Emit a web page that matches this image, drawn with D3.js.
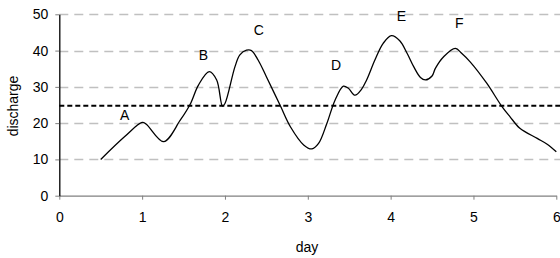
<!DOCTYPE html>
<html>
<head>
<meta charset="utf-8">
<script src="https://cdn.jsdelivr.net/npm/d3@7"></script>
<style>
  body { margin: 0; background: #fff; }
  svg { display: block; font-family: Arial, "Liberation Sans", sans-serif; }
</style>
</head>
<body>
<svg id="chart" width="560" height="258"></svg>
<script>
// hydrograph readings (day, discharge)
const days = [0.5, 0.79, 1.0, 1.05, 1.26, 1.46, 1.58, 1.68, 1.81, 1.9, 1.97, 2.0, 2.12, 2.18, 2.26, 2.32, 2.4, 2.5, 2.67, 2.79, 2.95, 3.05, 3.13, 3.23, 3.33, 3.43, 3.49, 3.57, 3.65, 3.71, 3.81, 3.91, 4.01, 4.11, 4.2, 4.28, 4.36, 4.42, 4.5, 4.54, 4.64, 4.78, 4.86, 4.96, 5.16, 5.34, 5.44, 5.56, 5.77, 5.89, 6.0];
const discharge = [10, 16.3, 20.2, 19.7, 14.9, 20.8, 25.2, 30.5, 34.2, 31.9, 24.7, 25.4, 35.5, 38.8, 40.1, 40, 37.4, 32.8, 24.7, 19, 14, 12.9, 14.4, 19.9, 26.4, 30.2, 29.6, 27.7, 29.4, 31.9, 37.4, 42, 44.1, 42.7, 39.2, 35.5, 32.6, 31.9, 33, 35.1, 38.3, 40.6, 39.2, 36.9, 31, 24.7, 21.8, 18.6, 15.8, 14.2, 12.1];
const threshold = 24.8;

const peakNames = ["A", "B", "C", "D", "E", "F"];
const peakDays = [0.79, 1.74, 2.41, 3.34, 4.13, 4.83];
const peakLabelY = [22.2, 38.7, 45.6, 35.9, 49.6, 47.6];

const xTicks = [0, 1, 2, 3, 4, 5, 6];
const yTicks = [0, 10, 20, 30, 40, 50];

const svg = d3.select("#chart");
const x = d3.scaleLinear().domain([0, 6]).range([59.3, 556.3]);
const y = d3.scaleLinear().domain([0, 50]).range([195.7, 14.3]);

// gridlines
svg.append("g")
    .selectAll("line")
    .data(yTicks.slice(1))
    .join("line")
    .attr("x1", x(0)).attr("x2", 560)
    .attr("y1", d => Math.round(y(d)) + 0.5).attr("y2", d => Math.round(y(d)) + 0.5)
    .attr("stroke", "#c0c0c0")
    .attr("stroke-width", 1.3)
    .attr("stroke-dasharray", "9,6");

// threshold line
svg.append("line")
    .attr("x1", x(0)).attr("x2", 560)
    .attr("y1", y(threshold)).attr("y2", y(threshold))
    .attr("stroke", "#000")
    .attr("stroke-width", 2)
    .attr("stroke-dasharray", "5,3");

// x axis
const xAxis = svg.append("g")
    .attr("transform", `translate(0,${y(0)})`)
    .call(d3.axisBottom(x).tickValues(xTicks).tickFormat(d3.format("d"))
        .tickSize(4).tickSizeOuter(0).tickPadding(12));
xAxis.select(".domain").attr("stroke", "#808080").attr("stroke-width", 1.3);
xAxis.selectAll(".tick line").attr("stroke", "#808080");
xAxis.selectAll("text").attr("font-size", 14).attr("fill", "#000").attr("font-family", "Arial, Liberation Sans, sans-serif");

// y axis
const yAxis = svg.append("g")
    .attr("transform", `translate(${x(0)},0)`)
    .call(d3.axisLeft(y).tickValues(yTicks).tickFormat(d3.format("d"))
        .tickSize(4).tickSizeOuter(0).tickPadding(7));
yAxis.select(".domain").attr("stroke", "#000").attr("stroke-width", 1.3);
yAxis.selectAll(".tick line").attr("stroke", "#808080");
yAxis.selectAll("text").attr("font-size", 14).attr("fill", "#000").attr("font-family", "Arial, Liberation Sans, sans-serif");

// axis titles
svg.append("text")
    .attr("x", 307).attr("y", 252)
    .attr("text-anchor", "middle")
    .attr("font-size", 14)
    .text("day");

svg.append("text")
    .attr("transform", `translate(18,${y(25) + 1}) rotate(-90)`)
    .attr("text-anchor", "middle")
    .attr("font-size", 14)
    .text("discharge");

// hydrograph
const pts = days.map((d, i) => [d, discharge[i]]);
const line = d3.line()
    .x(d => x(d[0]))
    .y(d => y(d[1]))
    .curve(d3.curveCatmullRom.alpha(0.5));

svg.append("path")
    .attr("d", line(pts))
    .attr("fill", "none")
    .attr("stroke", "#000")
    .attr("stroke-width", 1.3);

// peak labels
svg.append("g")
    .selectAll("text")
    .data(peakNames)
    .join("text")
    .attr("x", (d, i) => x(peakDays[i]))
    .attr("y", (d, i) => y(peakLabelY[i]))
    .attr("dy", "0.35em")
    .attr("text-anchor", "middle")
    .attr("font-size", 14)
    .text(d => d);
</script>
</body>
</html>
